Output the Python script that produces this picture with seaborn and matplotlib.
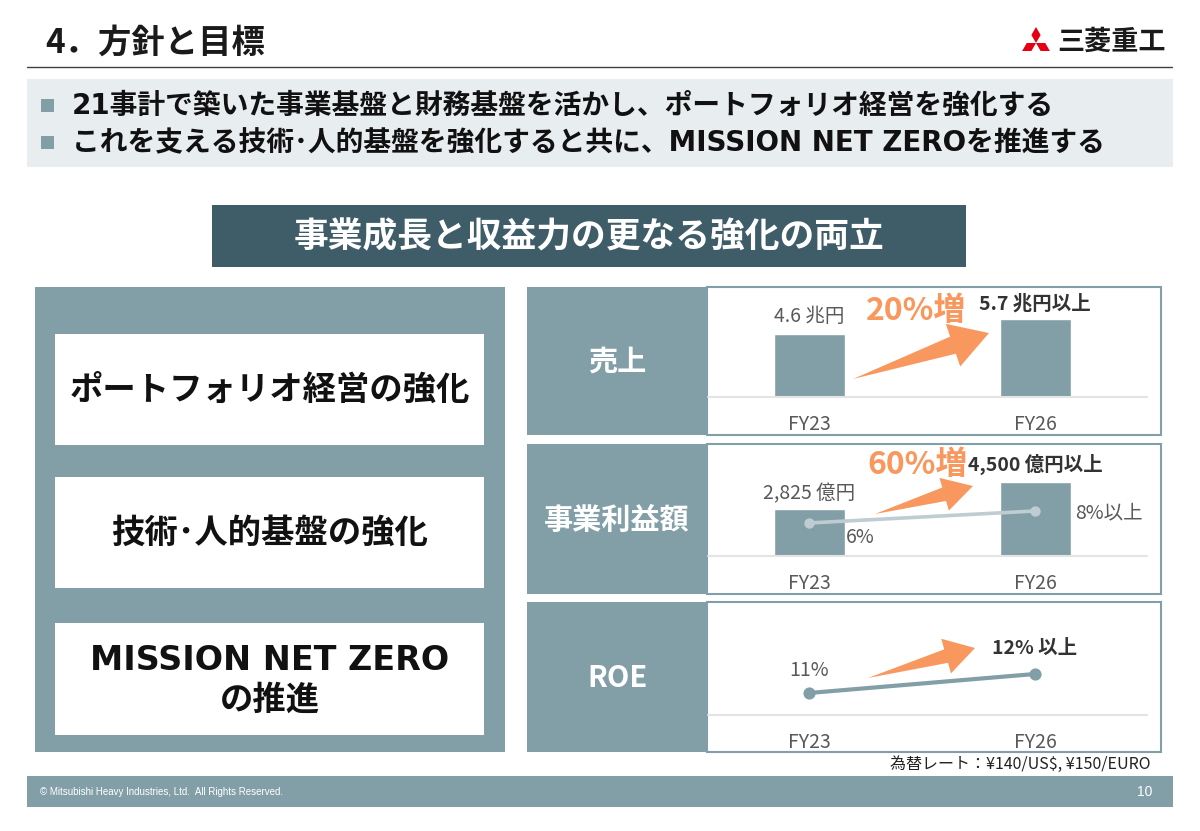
import numpy as np
import matplotlib.pyplot as plt
import seaborn as sns
from matplotlib.patches import Rectangle, Polygon

# ---- data ----
years = ["FY23", "FY26"]
sales = [4.6, 5.7]                      # 売上 (兆円)
sales_labels = ["4.6 兆円", "5.7 兆円以上"]
profit = [2825, 4500]                   # 事業利益額 (億円)
profit_labels = ["2,825 億円", "4,500 億円以上"]
margin = [6, 8]                         # 事業利益率 (%)
margin_labels = ["6%", "8%以上"]
roe = [11, 12]                          # ROE (%)
roe_labels = ["11%", "12% 以上"]
growth_labels = ["20%増", "60%増"]

panel_titles = ["売上", "事業利益額", "ROE"]
pillars = ["ポートフォリオ経営の強化", "技術･人的基盤の強化", "MISSION NET ZERO\nの推進"]
bullets = ["21事計で築いた事業基盤と財務基盤を活かし、ポートフォリオ経営を強化する",
           "これを支える技術･人的基盤を強化すると共に、MISSION NET ZEROを推進する"]

TEAL = "#829FA8"
DARK = "#3F5D69"
LIGHT = "#E8EDF0"
ORANGE = "#F9985E"
LINE2 = "#BFCDD2"
BASE = "#E4E4E4"
GREY = "#595959"

sns.set_style("white")
plt.rcParams['font.family'] = ['Noto Sans CJK JP', 'DejaVu Sans']
WIDE = ['DejaVu Sans', 'Noto Sans CJK JP']   # wide latin, CJK falls back

W, H = 1200, 831
fig = plt.figure(figsize=(12, 8.31), dpi=100)

# background axes in pixel coordinates (y downwards) for the slide layout
bg = fig.add_axes([0, 0, 1, 1])
bg.set_xlim(0, W)
bg.set_ylim(H, 0)
bg.axis('off')


def px_axes(x0, y0, x1, y1):
    return fig.add_axes([x0 / W, 1 - y1 / H, (x1 - x0) / W, (y1 - y0) / H])


def block_arrow(tail, tip, head_len, head_w, shaft_w):
    tail = np.array(tail, float)
    tip = np.array(tip, float)
    u = (tip - tail) / np.linalg.norm(tip - tail)
    n = np.array([u[1], -u[0]])
    base = tip - u * head_len
    pts = [tail, base - n * shaft_w / 2, base - n * head_w / 2, tip,
           base + n * head_w / 2, base + n * shaft_w / 2]
    bg.add_patch(Polygon(pts, closed=True, fc=ORANGE, ec='none', zorder=3))


# header
bg.text(45, 43, "4．方針と目標", fontsize=24, fontweight='bold', color="#1A1A1A", va='center')
bg.plot([27, 1172], [67, 67], color="#404040", lw=1)

# logo: three diamonds + name
c = np.array([1036, 43])
for ang in [90, 210, 330]:
    d = np.array([np.cos(np.radians(ang)), -np.sin(np.radians(ang))])
    p = np.array([d[1], -d[0]])
    L = 16
    s = L / np.sqrt(3) / 2
    pts = [c, c + d * L / 2 + p * s, c + d * L, c + d * L / 2 - p * s]
    bg.add_patch(Polygon(pts, closed=True, fc="#E60012", ec='none'))
bg.text(1057, 42, "三菱重工", fontsize=19.5, fontweight='bold', color="#1A1A1A", va='center')

# bullet box
bg.add_patch(Rectangle((27, 79), 1146, 88, fc=LIGHT, ec='none'))
for i, txt in enumerate(bullets):
    y = 105 + i * 37
    bg.add_patch(Rectangle((41, y - 6.5), 13, 13, fc=TEAL, ec='none'))
    bg.text(72, y + 1, txt, fontsize=20, fontweight='bold', color="#111111", va='center',
            family=WIDE)

# dark title bar
bg.add_patch(Rectangle((212, 205), 754, 62, fc=DARK, ec='none'))
bg.text(589, 237, "事業成長と収益力の更なる強化の両立", fontsize=25, fontweight='bold',
        color='white', ha='center', va='center')

# left panel with three pillars
bg.add_patch(Rectangle((35, 287), 470, 465, fc=TEAL, ec='none'))
for txt, (y0, y1) in zip(pillars, [(334, 445), (477, 588), (623, 735)]):
    bg.add_patch(Rectangle((55, y0), 429, y1 - y0, fc='white', ec='none'))
    bg.text(270, (y0 + y1) / 2 + 1, txt, fontsize=24, fontweight='bold', color="#111111",
            ha='center', va='center', linespacing=1.25, family=WIDE)

# right panels
rows = [(287, 435), (444, 594), (602, 752)]
baselines = [397, 556, 715]
for title, (y0, y1) in zip(panel_titles, rows):
    bg.add_patch(Rectangle((527, y0), 180, y1 - y0, fc=TEAL, ec='none'))
    bg.add_patch(Rectangle((707, y0), 454, y1 - y0, fc='white', ec=TEAL, lw=1.5))
    bg.text(617, (y0 + y1) / 2 + 1, title, fontsize=21, fontweight='bold', color='white',
            ha='center', va='center')

XLIM = (-0.447, 1.553)


def style_axes(ax):
    ax.set_facecolor('none')
    for sp in ax.spines.values():
        sp.set_visible(False)
    ax.set_yticks([])
    ax.set_ylabel('')
    ax.set_xlabel('')


def finish_x(ax):
    ax.set_xlim(*XLIM)
    ax.set_xticks([0, 1])
    ax.set_xticklabels(years)
    ax.tick_params(axis='x', length=0, pad=12, labelsize=14, labelcolor=GREY)


# 売上
ax1 = px_axes(708, rows[0][0] + 2, 1160, baselines[0])
sns.barplot(x=years, y=sales, color=TEAL, saturation=1, width=0.314, ax=ax1)
ax1.set_ylim(0, 7.94)
style_axes(ax1)
ax1.axhline(0, xmax=0.971, color=BASE, lw=1.5, clip_on=False)
for i, (v, lab) in enumerate(zip(sales, sales_labels)):
    ax1.annotate(lab, (i, v), xytext=(0, 13 if i == 0 else 11), textcoords='offset points',
                 ha='center', va='center', fontsize=14, color=GREY if i == 0 else "#333333",
                 fontweight='normal' if i == 0 else 'bold')
finish_x(ax1)

# 事業利益額 + 利益率
ax2 = px_axes(708, rows[1][0] + 2, 1160, baselines[1])
sns.barplot(x=years, y=profit, color=TEAL, saturation=1, width=0.314, ax=ax2)
ax2.set_ylim(0, 6650)
style_axes(ax2)
ax2.axhline(0, xmax=0.971, color=BASE, lw=1.5, clip_on=False)
for i, (v, lab) in enumerate(zip(profit, profit_labels)):
    ax2.annotate(lab, (i, v), xytext=(0, 11.5 if i == 0 else 12), textcoords='offset points',
                 ha='center', va='center', fontsize=14, color=GREY if i == 0 else "#333333",
                 fontweight='normal' if i == 0 else 'bold')
ax2b = ax2.twinx()
sns.pointplot(x=years, y=margin, color=LINE2, markers='o', markersize=5.5, linewidth=2.6,
              errorbar=None, ax=ax2b)
ax2b.set_ylim(0.5, 18.83)
style_axes(ax2b)
ax2b.annotate(margin_labels[0], (0, margin[0]), xytext=(26.5, -10.5), textcoords='offset points',
              ha='left', va='center', fontsize=14, color=GREY)
ax2b.annotate(margin_labels[1], (1, margin[1]), xytext=(29, -1.5), textcoords='offset points',
              ha='left', va='center', fontsize=14, color=GREY)
finish_x(ax2)
ax2b.set_xlim(*XLIM)

# ROE
ax3 = px_axes(708, rows[2][0] + 3, 1160, baselines[2])
sns.pointplot(x=years, y=roe, color=TEAL, markers='o', markersize=6.5, linewidth=3,
              errorbar=None, ax=ax3)
ax3.set_ylim(9.842, 15.63)
style_axes(ax3)
ax3.axhline(9.842, xmax=0.971, color=BASE, lw=1.5, clip_on=False)
for i, (v, lab) in enumerate(zip(roe, roe_labels)):
    ax3.annotate(lab, (i, v), xytext=(0, 16.5 if i == 0 else 18.7), textcoords='offset points',
                 ha='center', va='center', fontsize=14, color=GREY if i == 0 else "#333333",
                 fontweight='normal' if i == 0 else 'bold')
finish_x(ax3)

# growth arrows and labels
block_arrow((853, 379), (989, 333), 38, 45, 18)
block_arrow((875, 514), (973, 486), 30, 34, 14)
block_arrow((868, 678), (975, 648), 30, 36, 14)
bg.text(916, 311, growth_labels[0], fontsize=23, fontweight='bold', color=ORANGE,
        ha='center', va='center')
bg.text(918, 465, growth_labels[1], fontsize=23, fontweight='bold', color=ORANGE,
        ha='center', va='center')

# footnote and footer
bg.text(1150, 764, "為替レート：¥140/US$, ¥150/EURO", fontsize=11.5, color="#222222",
        ha='right', va='center')
bg.add_patch(Rectangle((27, 776), 1146, 31, fc=TEAL, ec='none'))
bg.text(40, 792, "© Mitsubishi Heavy Industries, Ltd.  All Rights Reserved.", fontsize=7,
        color='white', va='center', family=['Liberation Sans', 'DejaVu Sans'])
bg.text(1152, 792, "10", fontsize=10, color='white', ha='right', va='center',
        family=['Liberation Sans', 'DejaVu Sans'])

fig.savefig("out.png", dpi=100)
